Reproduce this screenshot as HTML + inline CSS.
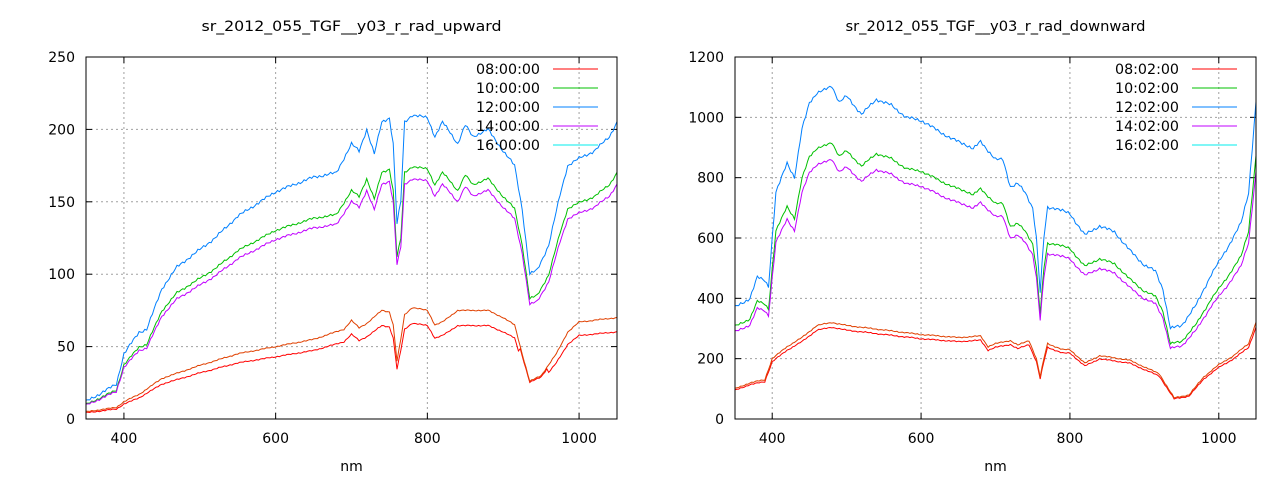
<!DOCTYPE html>
<html><head><meta charset="utf-8"><style>
body{margin:0;background:#fff;}
svg{display:block;font-family:"DejaVu Sans","Liberation Sans",sans-serif;font-size:13.5px;fill:#000}
</style></head><body>
<svg id="s" width="1280" height="480" xmlns="http://www.w3.org/2000/svg"></svg>
<script>
const S=document.getElementById('s');let h='';
function interp(k,x){for(let i=0;i<k.length-1;i++){if(x>=k[i][0]&&x<=k[i+1][0]){const t=(x-k[i][0])/(k[i+1][0]-k[i][0]);return k[i][1]+t*(k[i+1][1]-k[i][1]);}}return k[k.length-1][1];}
function plot(o){
 const {x0,x1,y0,y1,ymax,ystep,title,legend,series}=o;
 const X=v=>x0+(v-350)/700*(x1-x0), Y=v=>y1-v/ymax*(y1-y0);
 for(let v=400;v<=1000;v+=200){h+=`<line x1="${X(v)}" y1="${y0}" x2="${X(v)}" y2="${y1}" stroke="#a0a0a0" stroke-dasharray="2,3" stroke-width="1"/>`;
  h+=`<line x1="${X(v)}" y1="${y1}" x2="${X(v)}" y2="${y1-6}" stroke="#000"/><line x1="${X(v)}" y1="${y0}" x2="${X(v)}" y2="${y0+6}" stroke="#000"/>`;
  h+=`<text x="${X(v)}" y="${y1+24}" text-anchor="middle" font-size="14">${v}</text>`;}
 for(let v=0;v<=ymax;v+=ystep){const y=Y(v);if(v>0&&v<ymax)h+=`<line x1="${x0}" y1="${y}" x2="${x1}" y2="${y}" stroke="#a0a0a0" stroke-dasharray="2,3"/>`;
  h+=`<line x1="${x0}" y1="${y}" x2="${x0+6}" y2="${y}" stroke="#000"/><line x1="${x1}" y1="${y}" x2="${x1-6}" y2="${y}" stroke="#000"/>`;
  h+=`<text x="${x0-11}" y="${y+5}" text-anchor="end" font-size="14">${v}</text>`;}
 h+=`<text x="${(x0+x1)/2}" y="${y1+52}" text-anchor="middle" font-size="14">nm</text>`;
 h+=`<text x="${(x0+x1)/2-150}" y="31" textLength="300" lengthAdjust="spacingAndGlyphs" font-size="14.5">${title}</text>`;
 for(const s of series){let p=[];for(let nm=350;nm<=1050;nm+=2.5){let v=s.f(nm);v+=s.n*(Math.sin(nm*0.9)+0.6*Math.sin(nm*2.3+1));p.push(X(nm).toFixed(1)+','+Y(Math.max(v,0)).toFixed(1));}
  h+=`<polyline points="${p.join(' ')}" fill="none" stroke="${s.c}" stroke-width="1"/>`;}
 const lc=['#ff0000','#00c000','#0080ff','#c000ff','#00eeee'];
 legend.forEach((t,i)=>{const y=y0+12+i*19;h+=`<text x="${x1-141}" y="${y+5}" textLength="64" lengthAdjust="spacingAndGlyphs" font-size="14.5">${t}</text><line x1="${x1-64}" y1="${y}" x2="${x1-19}" y2="${y}" stroke="${lc[i]}"/>`;});
 h+=`<rect x="${x0}" y="${y0}" width="${x1-x0}" height="${y1-y0}" fill="none" stroke="#000" stroke-width="1"/>`;
}
const LB=[[350,12],[370,18],[390,24],[400,45],[420,60],[430,62],[450,90],[470,105],[500,117],[520,125],[550,140],[600,157],[650,167],[680,170],[700,190],[710,185],[720,200],[730,183],[740,205],[750,208],[755,190],[760,135],[765,150],[770,205],[780,210],[800,208],[810,195],[820,205],[830,198],[840,190],[850,203],[860,195],[880,200],[900,185],[915,175],[925,145],[935,100],[945,103],[960,120],[975,155],[985,175],[1000,180],[1020,185],[1040,195],[1050,205]];
const LO=[[350,5],[390,8],[400,12],[420,17],[450,28],[500,37],[550,45],[600,50],[650,55],[690,62],[700,68],[710,63],[720,66],[740,75],[750,74],[755,65],[760,40],[765,55],[770,72],[780,77],[800,75],[810,65],[820,67],[840,75],[880,75],[900,70],[915,65],[925,45],[935,26],[950,30],[970,45],[985,60],[1000,67],[1050,70]];
plot({x0:86,x1:617,y0:57,y1:419,ymax:250,ystep:50,title:'sr_2012_055_TGF__y03_r_rad_upward',
 legend:['08:00:00','10:00:00','12:00:00','14:00:00','16:00:00'],
 series:[
  {c:'#ff0000',n:0.3,f:x=>{const v=interp(LO,x);return x>920&&x<960?v*0.97:v*0.86}},
  {c:'#e04000',n:0.3,f:x=>interp(LO,x)},
  {c:'#00c000',n:0.6,f:x=>interp(LB,x)*0.83},
  {c:'#c000ff',n:0.6,f:x=>interp(LB,x)*0.79},
  {c:'#0080ff',n:0.8,f:x=>interp(LB,x)}]});
const RB=[[350,370],[370,400],[380,470],[390,460],[395,440],[400,600],[405,750],[420,850],[430,800],[440,960],[450,1050],[460,1080],[470,1090],[480,1105],[490,1050],[500,1070],[520,1010],[540,1060],[560,1040],[580,1000],[600,990],[620,960],[640,930],[660,910],[670,895],[680,920],[700,860],[710,860],[720,770],[730,780],[740,750],[750,700],[755,600],[760,420],[765,600],[770,700],[780,700],[800,680],[820,610],[840,640],[860,620],[880,560],[900,510],[915,490],[925,430],[935,300],[950,310],[970,380],[990,480],[1010,560],[1030,650],[1040,750],[1050,1050]];
const RL=[[350,100],[370,120],[390,130],[400,200],[420,240],[440,270],[460,310],[480,320],[500,310],[550,295],[600,280],[650,270],[680,275],[690,240],[700,250],[720,260],[730,245],[745,260],[755,200],[760,140],[765,200],[770,250],[790,230],[800,230],[820,185],[840,210],[880,195],[920,150],[940,70],[960,80],[980,140],[1000,180],[1020,210],[1040,250],[1050,320]];
plot({x0:735,x1:1256,y0:57,y1:419,ymax:1200,ystep:200,title:'sr_2012_055_TGF__y03_r_rad_downward',
 legend:['08:02:00','10:02:00','12:02:00','14:02:00','16:02:00'],
 series:[
  {c:'#ff0000',n:1.5,f:x=>interp(RL,x)*0.95},
  {c:'#e04000',n:1.5,f:x=>interp(RL,x)},
  {c:'#00c000',n:3,f:x=>interp(RB,x)*0.83},
  {c:'#c000ff',n:3,f:x=>interp(RB,x)*0.78},
  {c:'#0080ff',n:4,f:x=>interp(RB,x)}]});
S.innerHTML=h;
</script>
</body></html>
